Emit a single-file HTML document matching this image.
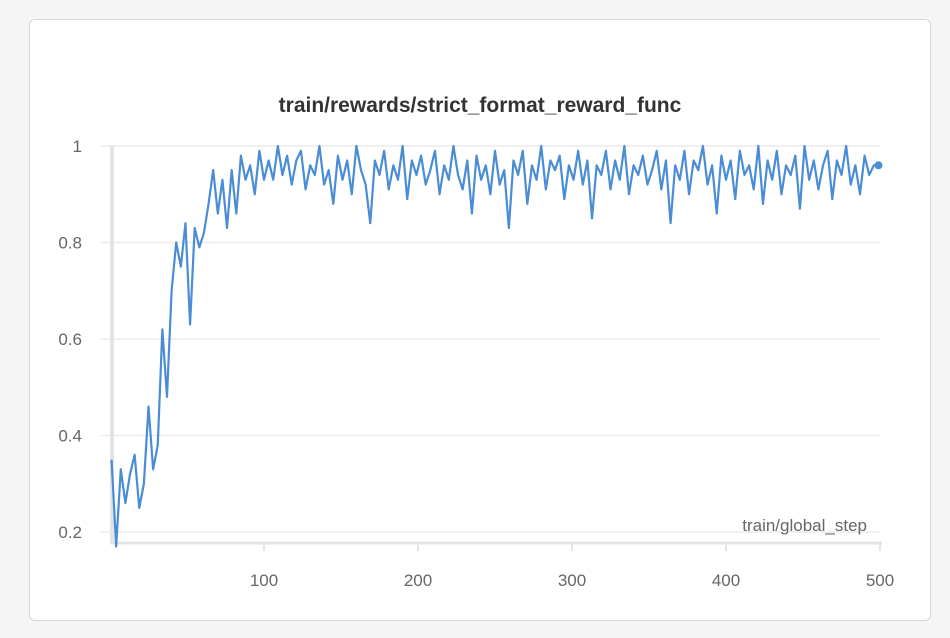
<!DOCTYPE html>
<html><head><meta charset="utf-8">
<style>
body{margin:0;background:#f5f5f5;width:950px;height:638px;overflow:hidden;font-family:"Liberation Sans",sans-serif;}
#card{position:absolute;left:29px;top:19px;width:900px;height:600px;background:#fff;border:1px solid #d8d8d8;border-radius:6px;}
</style></head><body>
<div id="card"></div>
<svg id="chart" width="950" height="638" style="position:absolute;left:0;top:0">
<text x="480" y="112" text-anchor="middle" font-size="21" font-weight="bold" fill="#333">train/rewards/strict_format_reward_func</text>
<g id="grid"></g><g id="axes"></g><g id="series"></g>
<text x="867" y="531" text-anchor="end" font-size="17" fill="#666">train/global_step</text>
</svg>
<script>
const yTicks=[0.2,0.4,0.6,0.8,1];
const yTickLabels=["0.2","0.4","0.6","0.8","1"];
const xTicks=[100,200,300,400,500];
const xTickLabels=["100","200","300","400","500"];
const earlySteps=[1,4,7,10,13,16,19,22,25,28,31,34,37,40,43,46,49,52,55,58,61,64,67,70,73,76,79,82,85,88,91,94,97,100];
const earlyValues=[0.35,0.17,0.33,0.26,0.32,0.36,0.25,0.30,0.46,0.33,0.38,0.62,0.48,0.70,0.80,0.75,0.84,0.63,0.83,0.79,0.82,0.88,0.95,0.86,0.93,0.83,0.95,0.86,0.98,0.93,0.96,0.90,0.99,0.93];
const lateValues=[0.97,0.93,1.0,0.94,0.98,0.92,0.97,0.99,0.91,0.96,0.94,1.0,0.92,0.95,0.88,0.98,0.93,0.97,0.90,1.0,0.95,0.92,0.84,0.97,0.94,0.99,0.91,0.96,0.93,1.0,0.89,0.97,0.94,0.98,0.92,0.95,0.99,0.90,0.96,0.93,1.0,0.94,0.91,0.97,0.86,0.98,0.93,0.96,0.90,0.99,0.92,0.95,0.83,0.97,0.94,0.99,0.88,0.96,0.93,1.0,0.91,0.97,0.95,0.98,0.89,0.96,0.93,0.99,0.92,0.97,0.85,0.96,0.94,0.99,0.91,0.97,0.93,1.0,0.90,0.96,0.94,0.98,0.92,0.95,0.99,0.91,0.97,0.84,0.96,0.93,0.99,0.90,0.97,0.95,1.0,0.92,0.96,0.86,0.98,0.93,0.97,0.89,0.99,0.94,0.96,0.91,1.0,0.88,0.97,0.93,0.99,0.90,0.96,0.94,0.98,0.87,1.0,0.93,0.97,0.91,0.96,0.99,0.89,0.97,0.94,1.0,0.92,0.96,0.90,0.98,0.94,0.96,0.96];
const NS="http://www.w3.org/2000/svg";
const xs=s=>110+(s)*1.54;
const ys=v=>146+(1-v)*482.5;
function mk(t,a,p){const e=document.createElementNS(NS,t);for(const k in a)e.setAttribute(k,a[k]);p.appendChild(e);return e;}
const grid=document.getElementById('grid'),axes=document.getElementById('axes'),ser=document.getElementById('series');
yTicks.forEach((v,i)=>{
 const l=mk('line',{x1:100,x2:880,y1:ys(v),y2:ys(v),stroke:'#ececec','stroke-width':1.5},grid);
 
 
 const t=mk('text',{x:82,y:ys(v)+6,'text-anchor':'end','font-size':17,fill:'#666'},axes);
 t.textContent=yTickLabels[i];
 
 
});
const ya=mk('line',{x1:112,x2:112,y1:146,y2:544,stroke:'#e4e4e4','stroke-width':4},axes);


const xa=mk('line',{x1:110,x2:882,y1:543,y2:543,stroke:'#e4e4e4','stroke-width':3},axes);


xTicks.forEach((v,i)=>{
 const tk=mk('line',{x1:xs(v),x2:xs(v),y1:543,y2:551,stroke:'#e4e4e4','stroke-width':2},axes);
 
 
 const t=mk('text',{x:xs(v),y:586,'text-anchor':'middle','font-size':17,fill:'#666'},axes);
 t.textContent=xTickLabels[i];
 
 
});
const pts=[];
earlySteps.forEach((s,i)=>pts.push([xs(s),ys(earlyValues[i])]));
lateValues.forEach((v,i)=>pts.push([xs(Math.min(103+i*3,500)),ys(v)]));
const p=mk('polyline',{points:pts.map(q=>q.join(',')).join(' '),fill:'none',stroke:'#4a8cd6','stroke-width':2.2,'stroke-linejoin':'round'},ser);


const last=pts[pts.length-1];
const d=mk('circle',{cx:last[0],cy:last[1],r:4,fill:'#4a8cd6'},ser);


</script>
</body></html>
